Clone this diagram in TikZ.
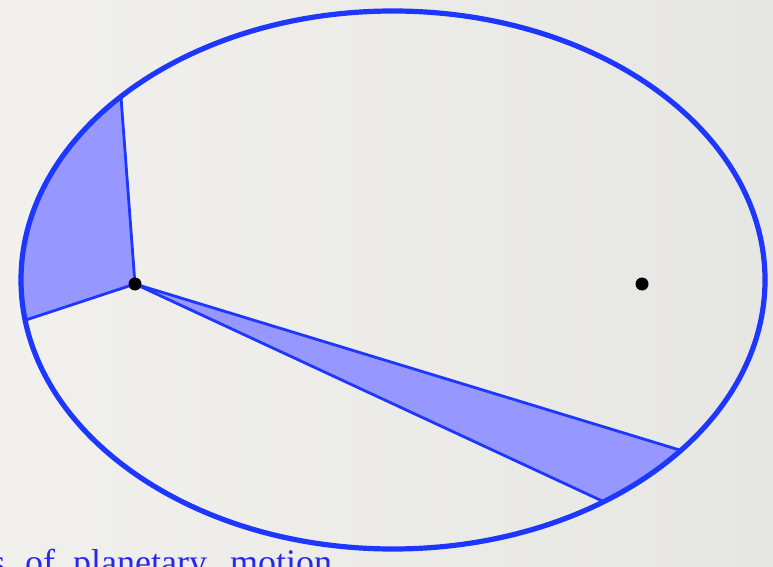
\documentclass[tikz,border=0pt]{standalone}
\usepackage{fontspec}
\setmainfont{Liberation Serif}
\usetikzlibrary{calc}
\definecolor{bgL}{RGB}{241,240,236}
\definecolor{bgR}{RGB}{230,230,226}
\definecolor{orbit}{RGB}{30,55,255}
\definecolor{sweep}{RGB}{150,152,255}
\definecolor{txt}{RGB}{40,40,235}
\begin{document}
\begin{tikzpicture}[x=1pt,y=1pt,
  orbitline/.style={draw=orbit,line width=5.2pt},
  sector/.style={fill=sweep,draw=orbit,line width=2.8pt,line join=round},
  dotfocus/.style={circle,fill=black,inner sep=0pt,minimum size=13pt},
  word/.style={anchor=base west,inner sep=0pt,text=txt,font=\fontsize{36}{40}\selectfont}]
\useasboundingbox (0,0) rectangle (773,566);
\shade[left color=bgL,right color=bgR] (0,0) rectangle (773,566);
\coordinate (C) at (393,286);
\coordinate (F1) at (135,282);
\coordinate (F2) at (642,282);
% swept areas
\path[sector] (F1) -- ($(C)+(137:372 and 269)$) arc[start angle=137,end angle=188.6,x radius=372,y radius=269] -- cycle;
\path[sector] (F1) -- ($(C)+(304.5:372 and 269)$) arc[start angle=304.5,end angle=320.7,x radius=372,y radius=269] -- cycle;
% orbit
\draw[orbitline] (C) ellipse[x radius=372,y radius=269];
\node[dotfocus] (f1) at (F1) {};
\node[dotfocus] (f2) at (F2) {};
\node[word] (w1) at (-9,-8) {s};
\node[word] (w2) at (25,-8) {of};
\node[word] (w3) at (73,-8) {planetary};
\node[word] (w4) at (230,-8) {motion};
\end{tikzpicture}
\end{document}
